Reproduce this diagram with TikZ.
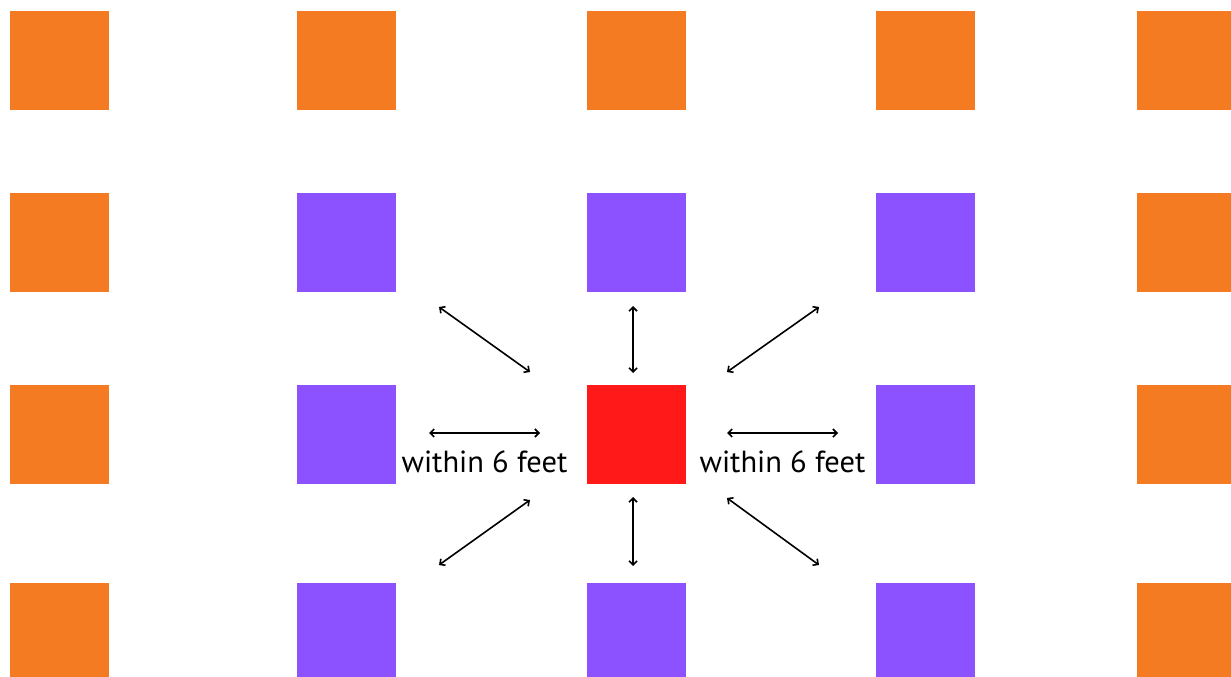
\documentclass[tikz,border=0pt]{standalone}
\usepackage{fontspec}
\setmainfont{PT Sans}
\usetikzlibrary{arrows.meta}
\definecolor{orng}{RGB}{244,123,34}
\definecolor{purp}{RGB}{140,82,255}
\definecolor{redsq}{RGB}{255,25,25}
\begin{document}
\begin{tikzpicture}[x=1pt,y=-1pt,
  sq/.style={minimum size=98.5pt,inner sep=0pt,outer sep=0pt,anchor=north west},
  osq/.style={sq,fill=orng},
  psq/.style={sq,fill=purp},
  rsq/.style={sq,fill=redsq},
  dist/.style={line width=1.6pt,{Straight Barb[length=4pt,width=8pt]}-{Straight Barb[length=4pt,width=8pt]}},
  lbl/.style={inner sep=0pt,font=\fontsize{30.5}{36}\selectfont}]
\useasboundingbox (0,0) rectangle (1231,677);
\clip (0,0) rectangle (1231,677);
% row 1
\node[osq] (o11) at (10,11) {};
\node[osq] (o12) at (297,11) {};
\node[osq] (o13) at (587,11) {};
\node[osq] (o14) at (876,11) {};
\node[osq] (o15) at (1137,11) {};
% row 2
\node[osq] (o21) at (10,193) {};
\node[psq] (p22) at (297,193) {};
\node[psq] (p23) at (587,193) {};
\node[psq] (p24) at (876,193) {};
\node[osq] (o25) at (1137,193) {};
% row 3
\node[osq] (o31) at (10,385) {};
\node[psq] (p32) at (297,385) {};
\node[rsq] (r33) at (587,385) {};
\node[psq] (p34) at (876,385) {};
\node[osq] (o35) at (1137,385) {};
% row 4
\node[osq] (o41) at (10,583) {};
\node[psq] (p42) at (297,583) {};
\node[psq] (p43) at (587,583) {};
\node[psq] (p44) at (876,583) {};
\node[osq] (o45) at (1137,583) {};
% arrow ends
\coordinate (ul1) at (439,307); \coordinate (ul2) at (530,372);
\coordinate (uc1) at (633,306); \coordinate (uc2) at (633,373);
\coordinate (ur1) at (819,307); \coordinate (ur2) at (727,372);
\coordinate (ml1) at (429,433); \coordinate (ml2) at (540,433);
\coordinate (mr1) at (727,433); \coordinate (mr2) at (838,433);
\coordinate (ll1) at (530,500); \coordinate (ll2) at (439,565);
\coordinate (lc1) at (633,497); \coordinate (lc2) at (633,566);
\coordinate (lr1) at (727,498); \coordinate (lr2) at (819,565);
\draw[dist] (ul1) -- (ul2);
\draw[dist] (uc1) -- (uc2);
\draw[dist] (ur1) -- (ur2);
\draw[dist] (ml1) -- (ml2);
\draw[dist] (mr1) -- (mr2);
\draw[dist] (ll1) -- (ll2);
\draw[dist] (lc1) -- (lc2);
\draw[dist] (lr1) -- (lr2);
\node[lbl,anchor=base] (tl) at (484.5,472) {within 6 feet};
\node[lbl,anchor=base] (tr) at (782.5,472) {within 6 feet};
\end{tikzpicture}
\end{document}
